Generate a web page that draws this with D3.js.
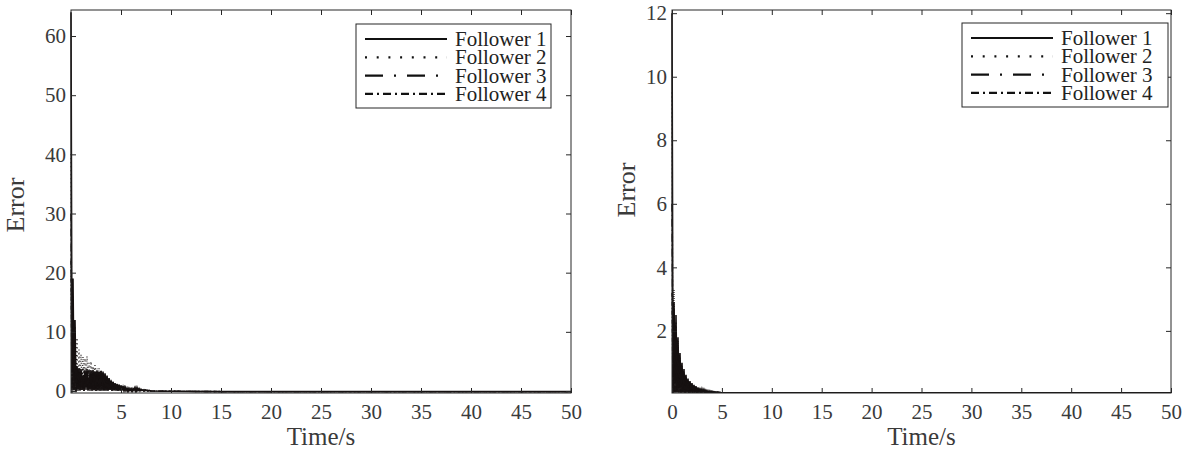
<!DOCTYPE html>
<html><head><meta charset="utf-8">
<script src="https://cdn.jsdelivr.net/npm/d3@7/dist/d3.min.js"></script>
<style>body{margin:0;background:#fff;} text{font-family:"Liberation Serif","Times New Roman",serif;}</style>
</head><body><svg id="c" width="1191" height="450"></svg>
<script>
const seriesNames = ["Follower 1", "Follower 2", "Follower 3", "Follower 4"];
const sampleStep = 0.1; // seconds between samples of the dense part
const tailTimes = [8, 10, 15, 20, 30, 40, 50];

// Left panel: sampled error values (t = 0, 0.1, 0.2, ...)
const leftF1 = [64, 0.2, 19, 0.1, 12, -0.2, 4.2, 0.3, 3.8, 0.1, 3.6, 0.2, 2.5, 0.0, 3.4, 0.4, 3.7, 0.1, 2.2, 0.3,
  3.5, 0.1, 3.6, 0.2, 3.3, 0.0, 3.5, 0.2, 3.2, 0.1, 3.4, 0.3, 3.3, 0.1, 3.0, 0.2, 2.6, 0.1, 2.2, 0.2,
  1.8, 0.1, 1.5, 0.1, 1.3, 0.2, 1.1, 0.0, 1.0, 0.1, 0.9, 0.1, 0.8, 0.0, 0.6, 0.1, 0.5, 0.0, 0.4, 0.1,
  0.3, 0.0, 0.4, 0.1, 0.5, 0.0, 0.6, 0.1, 0.4, 0.0, 0.3, 0.1, 0.2, 0.0, 0.2, 0.1, 0.15, 0.0, 0.1, 0.05];
const leftF2 = [40, 0.3, 16, 0.1, 11, 0.2, 9, 0.0, 7, 0.3, 6.2, 0.1, 5.8, 0.2, 5.5, 0.0, 5.9, 0.3, 4.8, 0.1,
  5.0, 0.2, 4.2, 0.0, 4.4, 0.1, 3.8, 0.2, 3.9, 0.0, 3.5, 0.1, 3.2, 0.2, 2.8, 0.1, 2.4, 0.0, 2.0, 0.1,
  1.7, 0.0, 1.4, 0.1, 1.2, 0.0, 1.1, 0.1, 1.0, 0.0, 0.9, 0.1, 0.8, 0.0, 0.7, 0.1, 0.6, 0.0, 0.5, 0.1,
  0.4, 0.0, 0.4, 0.1, 0.3, 0.0, 0.3, 0.1, 0.3, 0.0, 0.2, 0.1, 0.2, 0.0, 0.15, 0.05, 0.1, 0.0, 0.1, 0.05];
const leftF3 = [30, 0.1, 15, 0.2, 10, 0.0, 4.0, 0.2, 3.5, 0.1, 3.7, 0.3, 3.0, 0.0, 3.6, 0.2, 2.8, 0.1, 3.4, 0.2,
  3.3, 0.0, 2.9, 0.1, 3.5, 0.2, 3.0, 0.1, 3.3, 0.0, 3.1, 0.2, 2.9, 0.1, 2.6, 0.0, 2.3, 0.1, 2.0, 0.2,
  1.7, 0.0, 1.5, 0.1, 1.3, 0.0, 1.2, 0.1, 1.0, 0.0, 0.9, 0.1, 0.8, 0.0, 0.6, 0.1, 0.5, 0.0, 0.45, 0.1,
  0.4, 0.0, 0.35, 0.1, 0.5, 0.0, 0.4, 0.1, 0.3, 0.0, 0.25, 0.1, 0.2, 0.0, 0.15, 0.05, 0.1, 0.0, 0.1, 0.05];
const leftF4 = [22, -0.3, 13, 0.1, 8, 0.2, 3.6, 0.0, 3.9, 0.2, 3.2, 0.1, 3.8, 0.0, 3.1, 0.2, 3.5, 0.1, 3.6, 0.0,
  3.0, 0.2, 3.4, 0.1, 3.2, 0.0, 3.3, 0.1, 3.1, 0.2, 3.3, 0.0, 3.0, 0.1, 2.8, 0.2, 2.4, 0.0, 2.1, 0.1,
  1.9, 0.0, 1.6, 0.1, 1.4, 0.0, 1.2, 0.1, 1.1, 0.0, 0.9, 0.1, 0.7, 0.0, 0.6, 0.1, 0.5, 0.0, 0.5, 0.1,
  0.4, 0.0, 0.5, 0.1, 0.6, 0.0, 0.4, 0.1, 0.3, 0.0, 0.2, 0.1, 0.2, 0.0, 0.15, 0.0, 0.1, 0.05, 0.08, 0.04];
const leftTail = [0.0, -0.05, -0.1, -0.1, -0.1, -0.1, -0.1];

// Right panel
const rightF1 = [12, 0.05, 2.9, 0.06, 2.5, 0.05, 1.8, 0.07, 1.3, 0.05, 1.0, 0.06, 0.8, 0.05, 0.62, 0.06, 0.5, 0.05, 0.42, 0.06,
  0.36, 0.05, 0.3, 0.06, 0.26, 0.05, 0.22, 0.06, 0.19, 0.05, 0.17, 0.06, 0.15, 0.05, 0.13, 0.06, 0.12, 0.05, 0.11, 0.06,
  0.1, 0.05, 0.09, 0.06, 0.08, 0.05, 0.08, 0.06, 0.07, 0.05];
const rightF2 = [9.5, 0.05, 3.3, 0.05, 2.3, 0.06, 1.7, 0.05, 1.2, 0.06, 0.9, 0.05, 0.7, 0.06, 0.55, 0.05, 0.45, 0.06, 0.38, 0.05,
  0.32, 0.06, 0.27, 0.05, 0.23, 0.06, 0.2, 0.05, 0.18, 0.06, 0.16, 0.05, 0.14, 0.06, 0.12, 0.05, 0.11, 0.06, 0.1, 0.05,
  0.09, 0.06, 0.08, 0.05, 0.08, 0.06, 0.07, 0.05, 0.06, 0.05];
const rightF3 = [6, 0.05, 2.6, 0.06, 2.0, 0.05, 1.5, 0.06, 1.1, 0.05, 0.85, 0.06, 0.65, 0.05, 0.5, 0.06, 0.42, 0.05, 0.35, 0.06,
  0.3, 0.05, 0.25, 0.06, 0.22, 0.05, 0.19, 0.06, 0.17, 0.05, 0.15, 0.06, 0.13, 0.05, 0.12, 0.06, 0.1, 0.05, 0.09, 0.06,
  0.09, 0.05, 0.08, 0.06, 0.07, 0.05, 0.07, 0.06, 0.06, 0.05];
const rightF4 = [3.2, 0.05, 2.7, 0.05, 1.9, 0.06, 1.4, 0.05, 1.0, 0.06, 0.75, 0.05, 0.6, 0.06, 0.48, 0.05, 0.4, 0.06, 0.33, 0.05,
  0.28, 0.06, 0.24, 0.05, 0.21, 0.06, 0.18, 0.05, 0.16, 0.06, 0.14, 0.05, 0.13, 0.06, 0.11, 0.05, 0.1, 0.06, 0.09, 0.05,
  0.08, 0.06, 0.08, 0.05, 0.07, 0.06, 0.07, 0.05, 0.06, 0.05];
const rightTail = [0.055, 0.05, 0.05, 0.05, 0.05, 0.05, 0.05];

const leftXTicks = [5, 10, 15, 20, 25, 30, 35, 40, 45, 50];
const leftYTicks = [0, 10, 20, 30, 40, 50, 60];
const rightXTicks = [0, 5, 10, 15, 20, 25, 30, 35, 40, 45, 50];
const rightYTicks = [2, 4, 6, 8, 10, 12];

const dataDash = [null, "1,3", "8,3,1,3", "4,2,1,2"];
const dataWidth = [1.6, 1.2, 1.4, 1.4];
const legendDash = [null, "2,9.7", "18,11,2,11", "8,4,2,4"];

const svg = d3.select("#c");
const axisCol = "#262626", textCol = "#3a3a3a";

function panel(cfg) {
  const {x0, x1, y0, y1} = cfg;
  const g = svg.append("g");
  const x = d3.scaleLinear().domain([0, 50]).range([x0, x1]);
  const y = d3.scaleLinear().domain(cfg.yDomain).range([y1, y0]);
  const clipId = "clip" + cfg.id;
  svg.append("clipPath").attr("id", clipId).append("rect")
    .attr("x", x0 - 1).attr("y", y0).attr("width", x1 - x0 + 1).attr("height", y1 - y0);

  const line = d3.line().x(d => x(d[0])).y(d => y(d[1]));
  const lg = g.append("g").attr("clip-path", `url(#${clipId})`);
  cfg.series.forEach((vals, i) => {
    const pts = vals.map((v, k) => [k * sampleStep, v]);
    tailTimes.forEach((t, k) => pts.push([t, cfg.tail[k]]));
    lg.append("path").attr("d", line(pts)).attr("fill", "none")
      .attr("stroke", "#161111").attr("stroke-width", dataWidth[i])
      .attr("stroke-dasharray", dataDash[i]);
  });

  const tickLen = 5;
  const style = sel => { sel.select(".domain").remove(); sel.selectAll("line").attr("stroke", axisCol); sel.selectAll("text").attr("fill", textCol).style("font-size", "21px").style("font-family", "Liberation Serif"); };
  g.append("g").attr("transform", `translate(0,${y1})`)
    .call(d3.axisBottom(x).tickValues(cfg.xTicks).tickSize(-tickLen).tickPadding(11).tickFormat(d3.format("d")))
    .call(style);
  g.append("g").attr("transform", `translate(0,${y0})`)
    .call(d3.axisTop(x).tickValues(cfg.xTicks).tickSize(-tickLen).tickFormat(""))
    .call(style);
  g.append("g").attr("transform", `translate(${x0},0)`)
    .call(d3.axisLeft(y).tickValues(cfg.yTicks).tickSize(-tickLen).tickPadding(5).tickFormat(d3.format("d")))
    .call(style);
  g.append("g").attr("transform", `translate(${x1},0)`)
    .call(d3.axisRight(y).tickValues(cfg.yTicks).tickSize(-tickLen).tickFormat(""))
    .call(style);
  g.append("rect").attr("x", x0).attr("y", y0).attr("width", x1 - x0).attr("height", y1 - y0)
    .attr("fill", "none").attr("stroke", axisCol).attr("stroke-width", 1);

  g.append("text").attr("x", (x0 + x1) / 2).attr("y", 445).attr("text-anchor", "middle")
    .attr("fill", textCol).style("font-size", "25px").text("Time/s");
  g.append("text").attr("transform", `translate(${cfg.ylabX},${cfg.ylabY}) rotate(-90)`)
    .attr("text-anchor", "middle").attr("fill", textCol).style("font-size", "26px").text("Error");

  // legend
  const L = cfg.legend;
  const lgd = g.append("g");
  lgd.append("rect").attr("x", L.x).attr("y", L.y).attr("width", L.w).attr("height", L.h)
    .attr("fill", "#fff").attr("stroke", axisCol).attr("stroke-width", 1);
  seriesNames.forEach((name, i) => {
    const cy = L.y + 15 + i * 18.3;
    lgd.append("line").attr("x1", L.x + 9).attr("x2", L.x + 91).attr("y1", cy).attr("y2", cy)
      .attr("stroke", "#111").attr("stroke-width", 2.2).attr("stroke-dasharray", legendDash[i]);
    lgd.append("text").attr("x", L.x + 99).attr("y", cy + 7).attr("fill", "#222")
      .style("font-size", "21px").text(name);
  });
}

panel({id: "L", x0: 71, x1: 571, y0: 10, y1: 393, yDomain: [-0.34, 64.4],
  series: [leftF1, leftF2, leftF3, leftF4], tail: leftTail,
  xTicks: leftXTicks, yTicks: leftYTicks, ylabX: 24, ylabY: 205,
  legend: {x: 356, y: 24, w: 195, h: 84}});
panel({id: "R", x0: 672, x1: 1171, y0: 10, y1: 393, yDomain: [0.045, 12.1],
  series: [rightF1, rightF2, rightF3, rightF4], tail: rightTail,
  xTicks: rightXTicks, yTicks: rightYTicks, ylabX: 635, ylabY: 190,
  legend: {x: 962, y: 23, w: 206, h: 84}});
</script></body></html>
